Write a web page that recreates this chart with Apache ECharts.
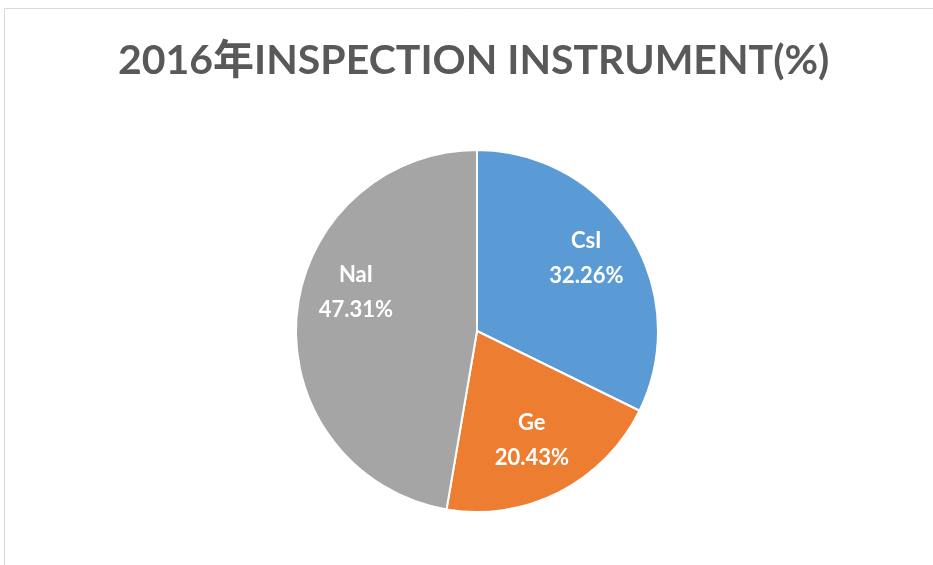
<!DOCTYPE html>
<html>
<head>
<meta charset="utf-8">
<script src="https://cdn.jsdelivr.net/npm/echarts@6/dist/echarts.min.js"></script>
<style>
html,body{margin:0;padding:0;background:#fff;}
#chart{width:933px;height:565px;}
</style>
</head>
<body>
<div id="chart"></div>
<script>
const titleText = '2016年INSPECTION INSTRUMENT(%)';
const categories = ['CsI', 'Ge', 'NaI'];
const values = [32.26, 20.43, 47.31];
const colors = ['#5b9bd5', '#ed7d31', '#a5a5a5'];

const chart = echarts.init(document.getElementById('chart'));
const pieData = categories.map((c, i) => ({
  name: c,
  value: values[i],
  itemStyle: { color: colors[i] }
}));
// per-label nudges, mimicking the source's "best fit" label placement
const labelNudge = { CsI: [-4, -2], Ge: [-6, -9], NaI: [12, -27] };
const labelData = categories.map((c, i) => ({
  name: c,
  value: values[i],
  label: { offset: labelNudge[c] }
}));

chart.setOption({
  animation: false,
  title: {
    text: titleText,
    left: 113,
    top: 35,
    textStyle: {
      fontFamily: 'Lato, "Noto Sans CJK SC", sans-serif',
      fontWeight: 'bold',
      fontSize: 41,
      color: '#595959'
    }
  },
  graphic: [{
    type: 'rect',
    shape: { x: 4.5, y: 8.5, width: 1000, height: 1000 },
    style: { fill: 'none', stroke: '#d9d9d9', lineWidth: 1 },
    silent: true
  }],
  series: [{
    type: 'pie',
    center: [477, 331],
    radius: [0, 181],
    startAngle: 90,
    clockwise: true,
    label: { show: false },
    labelLine: { show: false },
    itemStyle: { borderColor: '#ffffff', borderWidth: 2 },
    silent: true,
    data: pieData
  }, {
    type: 'pie',
    center: [477, 331],
    radius: [80, 181],
    startAngle: 90,
    clockwise: true,
    silent: true,
    itemStyle: { color: 'rgba(0,0,0,0)' },
    labelLine: { show: false },
    label: {
      show: true,
      position: 'inside',
      formatter: p => p.name + '\n' + p.value.toFixed(2) + '%',
      color: '#ffffff',
      fontFamily: 'Lato, sans-serif',
      fontWeight: 'bold',
      fontSize: 22,
      lineHeight: 35,
      align: 'center'
    },
    data: labelData
  }]
});
</script>
</body>
</html>
